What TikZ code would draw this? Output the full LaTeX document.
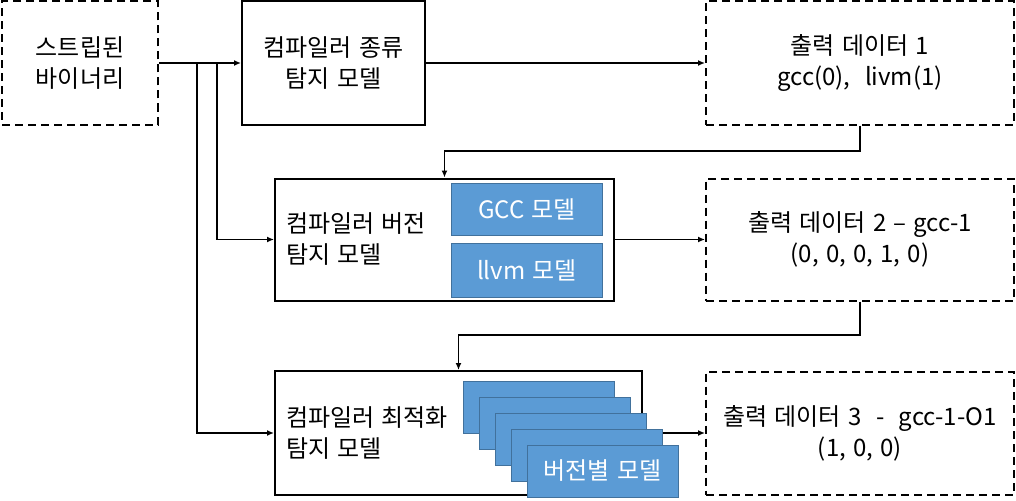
\documentclass[tikz,border=0pt]{standalone}
\usepackage{fontspec}
\setmainfont{Noto Sans CJK KR}[WordSpace=1.35]
\usetikzlibrary{arrows.meta}
\definecolor{bluefill}{RGB}{91,155,213}
\definecolor{blueedge}{RGB}{65,113,156}
\begin{document}
\begin{tikzpicture}[x=1pt,y=-1pt,
  txt/.style={font=\fontsize{24}{31}\selectfont},
  box/.style={draw, line width=2pt, inner sep=0pt, align=center, txt},
  dbox/.style={box, dash pattern=on 8pt off 5pt},
  model/.style={draw=blueedge, line width=0.8pt, fill=bluefill, text=white, inner sep=0pt,
                minimum width=151pt, minimum height=52pt, txt},
  conn/.style={line width=1.4pt, -{Latex[length=7pt,width=6pt]}},
  lbl/.style={align=left, anchor=west, inner sep=0pt, txt}
]
\useasboundingbox (0,0) rectangle (1016,500);

% top row
\node[dbox, minimum width=156pt, minimum height=123pt] (A) at (80,63) {스트립된\\바이너리};
\node[box, minimum width=183pt, minimum height=123pt] (B) at (333.5,63) {컴파일러 종류\\탐지 모델};
\node[dbox, minimum width=308pt, minimum height=123pt] (C) at (860,63) {출력 데이터 1\\gcc(0),\ \ livm(1)};

% middle row
\node[box, minimum width=339pt, minimum height=122pt] (D) at (444.5,239.5) {};
\node[lbl] (Dt) at (286,239) {컴파일러 버전\\탐지 모델};
\node[model] (M1) at (527,209) {GCC 모델};
\node[model, minimum height=54pt] (M2) at (527,270) {llvm 모델};
\node[dbox, minimum width=308pt, minimum height=122pt] (E) at (860,239.5) {출력 데이터 2 – gcc-1\\(0, 0, 0, 1, 0)};

% bottom row
\node[box, minimum width=367pt, minimum height=124pt] (F) at (458.5,433) {};
\node[lbl] (Ft) at (286,433) {컴파일러 최적화\\탐지 모델};
\node[dbox, minimum width=308pt, minimum height=123pt] (G) at (860,433) {출력 데이터 3 \ - \ gcc-1-O1\\(1, 0, 0)};

% connectors
\coordinate (j1) at (197,63);
\coordinate (j2) at (217,63);
\coordinate (k1) at (860,151);
\coordinate (k2) at (860,335);
\draw[conn] (A.east) -- (B.west);
\draw[conn] (j1) |- (F.west);
\draw[conn] (j2) |- (D.west);
\draw[conn] (B.east) -- (C.west);
\draw[conn] (C.south) -- (k1) -| (D.north);
\draw[conn] (D.east) -- (E.west);
\draw[conn] (E.south) -- (k2) -| (F.north);
\draw[conn] (F.east) -- (G.west);

% stacked version models
\node[model] (V1) at (538.5,407) {};
\node[model] (V2) at (554.5,423) {};
\node[model] (V3) at (570.5,439) {};
\node[model] (V4) at (586.5,455) {};
\node[model] (V5) at (602.5,471) {버전별 모델};
\end{tikzpicture}
\end{document}
